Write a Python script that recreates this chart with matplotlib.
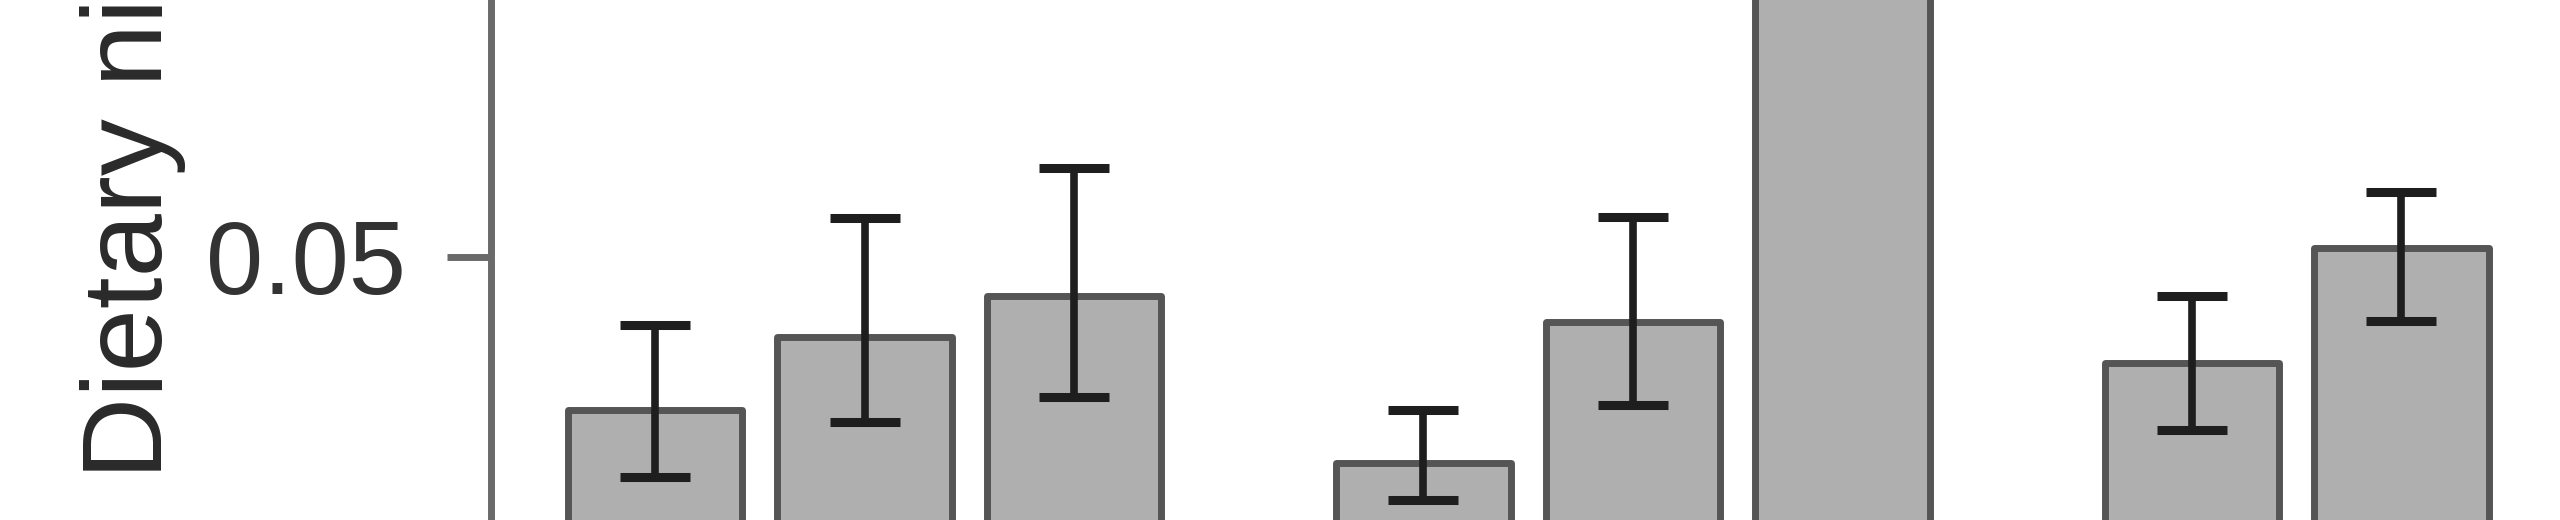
import numpy as np
import matplotlib
matplotlib.use("Agg")
import matplotlib.pyplot as plt

plt.rcParams['font.family'] = ['Liberation Sans', 'DejaVu Sans']

# three groups, up to three bars per group (third bar of last group missing)
groups = ["Group 1", "Group 2", "Group 3"]
means_a = [0.0245, 0.0157, 0.0323]
means_b = [0.0367, 0.0392, 0.0515]
means_c = [0.0435, 0.1300, np.nan]
low_a = [0.0133, 0.0095, 0.0212]
high_a = [0.0387, 0.0245, 0.0435]
low_b = [0.0225, 0.0253, 0.0393]
high_b = [0.0565, 0.0567, 0.0608]
low_c = [0.0267, 0.1150, np.nan]
high_c = [0.0648, 0.1450, np.nan]

ytick_vals = [0.05]
ytick_labels = ["0.05"]
ylabel = "Dietary niche breadth"

W, H = 2560, 520
fig = plt.figure(figsize=(W / 100, H / 100), dpi=100)
ax = fig.add_axes([491 / W, 0, 1 - 491 / W, 1])

bar_fill = "#afafaf"
bar_edge = "#555555"
err_col = "#1e1e1e"
axis_col = "#6a6a6a"

series = [(means_a, low_a, high_a), (means_b, low_b, high_b), (means_c, low_c, high_c)]
group_x = np.arange(len(groups)) * 4.4  # R barplot style: space = c(0.2, 1)
for i, (m, lo, hi) in enumerate(series):
    m = np.array(m)
    x = group_x + i * 1.2
    ax.bar(x, m, width=1.0, color=bar_fill, edgecolor=bar_edge, linewidth=5,
           zorder=2, joinstyle="round")
    yerr = np.vstack([m - np.array(lo), np.array(hi) - m])
    ax.errorbar(x, m, yerr=yerr, fmt="none", ecolor=err_col, elinewidth=5.5,
                capsize=25, capthick=6.5, zorder=3)

ax.set_xlim(-0.939, 10.908)
ax.set_ylim(0.00617, 0.0928)

for s in ["top", "right", "bottom"]:
    ax.spines[s].set_visible(False)
ax.spines["left"].set_color(axis_col)
ax.spines["left"].set_linewidth(5)
ax.set_xticks([])
ax.set_yticks(ytick_vals)
ax.set_yticklabels(ytick_labels)
ax.tick_params(axis="y", length=31.5, width=5, color=axis_col, pad=30,
               labelsize=74, labelcolor="#333333")

fig.text(162 / W, (H - 479) / H, ylabel, rotation=90, rotation_mode="anchor",
         ha="left", va="baseline", fontsize=82, color="#2a2a2a")

fig.savefig("out.png", dpi=100, facecolor="white")
